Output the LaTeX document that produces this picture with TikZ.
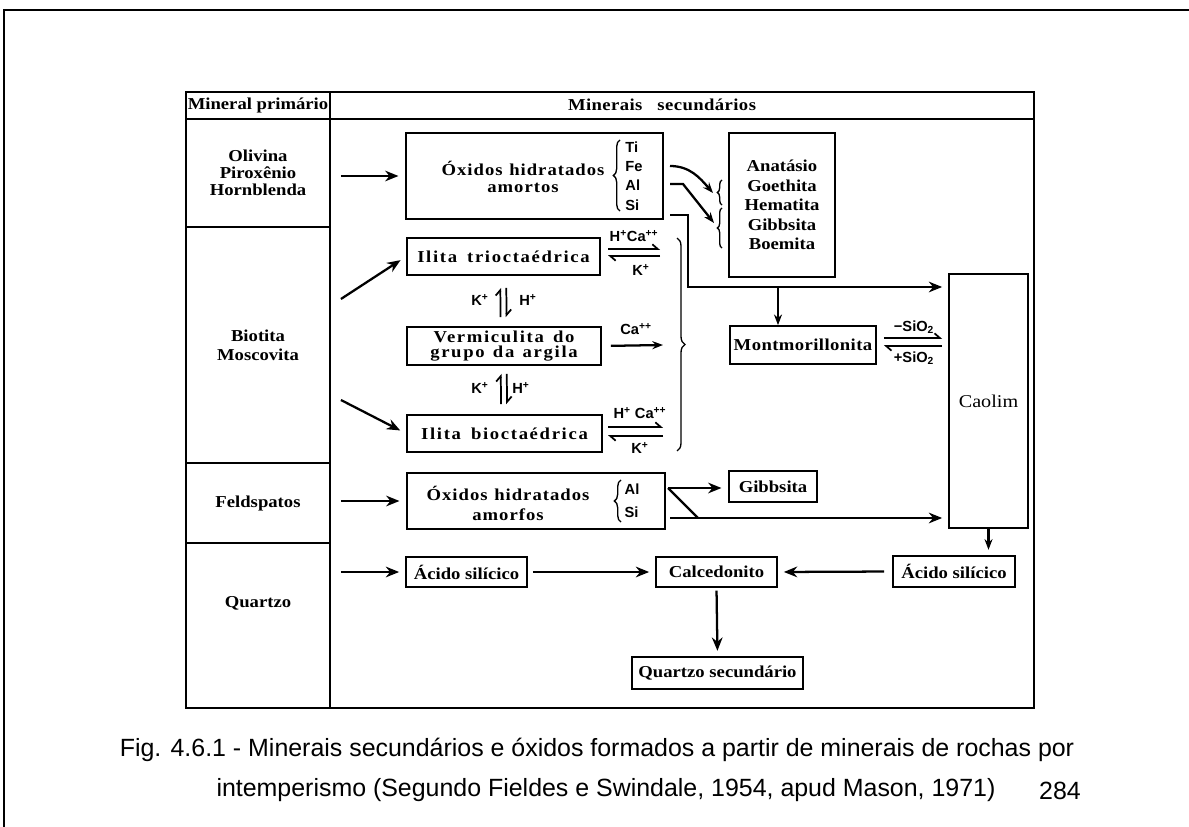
\documentclass[tikz,border=0pt]{standalone}
\usepackage{fontspec}
\setmainfont{Liberation Serif}[FakeStretch=1.12]
\newfontfamily\capfont{Liberation Sans}
\newfontfamily\chemfont{Liberation Sans}
\newfontfamily\widefont{Liberation Serif}[FakeStretch=1.12,LetterSpace=6]
\newfontfamily\widerfont{Liberation Serif}[FakeStretch=1.12,LetterSpace=10]
\newfontfamily\slightfont{Liberation Serif}[FakeStretch=1.12,LetterSpace=2.5]
\usetikzlibrary{arrows.meta,decorations.pathreplacing,calc}
\tikzset{
  cell/.style={draw, line width=1.4pt, inner sep=0pt, align=center,
    font=\bfseries\fontsize{12.5}{12.75}\selectfont},
  bx/.style={draw, line width=1.3pt, inner sep=0pt, align=center,
    font=\bfseries\fontsize{12.5}{12.75}\selectfont},
  txt/.style={inner sep=0pt, align=center, font=\bfseries\fontsize{12.5}{12.75}\selectfont},
  chem/.style={inner sep=0pt, align=left, font=\chemfont\bfseries\fontsize{11}{11}\selectfont},
  arr/.style={line width=1.7pt, -{Stealth[length=10pt,width=8pt]}},
  ln/.style={line width=1.7pt},
  harp/.style={line width=1.3pt, -{Straight Barb[harpoon,length=4pt,width=7pt]}},
  brc/.style={line width=1pt, decorate, decoration={brace, amplitude=5pt}},
  capt/.style={inner sep=0pt, font=\capfont\fontsize{18.7}{22}\selectfont}
}
\begin{document}
\begin{tikzpicture}[x=0.75pt,y=-0.75pt]
\useasboundingbox (0,0) rectangle (1189,827);
% outer frame
\draw[line width=1.5pt] (4,827) -- (4,10) -- (1189,10);

% table
\node[cell, minimum width=108pt, minimum height=20.25pt] (hl) at (258,105.5) {Mineral prim\'ario};
\node[cell, minimum width=528pt, minimum height=20.25pt] (hr) at (682,105.5) {};
\node[txt, font=\slightfont\bfseries\fontsize{12.5}{12.75}\selectfont] (hrt) at (662,105) {Minerais\hspace{0.9em}secund\'arios};
\node[cell, minimum width=528pt, minimum height=441.75pt] (ra) at (682,413.5) {};
\node[cell, minimum width=108pt, minimum height=81pt] (olv) at (258,173) {Olivina\\Pirox\^enio\\Hornblenda};
\node[cell, minimum width=108pt, minimum height=177pt, font=\bfseries\fontsize{12.5}{14.25}\selectfont] (bio) at (258,345) {Biotita\\Moscovita};
\node[cell, minimum width=108pt, minimum height=60pt] (fel) at (258,503) {Feldspatos};
\node[cell, minimum width=108pt, minimum height=123.75pt] (qtz) at (258,625.5) {};
\node[txt] (qtzt) at (258,603) {Quartzo};

% boxes
\node[bx, minimum width=192.75pt, minimum height=64.5pt] (ox1) at (534.5,176) {};
\node[txt, font=\widefont\bfseries\fontsize{12.5}{12.75}\selectfont] (ox1t) at (523,177) {\'Oxidos\hspace{0.4em}hidratados\\amortos};
\node[chem, font=\chemfont\bfseries\fontsize{11}{14.5}\selectfont] (tfas) at (634,176) {Ti\\Fe\\Al\\Si};
\draw[brc] (620,211) -- (620,140);

\node[bx, minimum width=79.5pt, minimum height=108pt, font=\bfseries\fontsize{12.5}{14.6}\selectfont] (anat) at (782,205) {Anat\'asio\\Goethita\\Hematita\\Gibbsita\\Boemita};

\node[bx, minimum width=144.75pt, minimum height=27.75pt, font=\widerfont\bfseries\fontsize{12.5}{12.75}\selectfont] (ilt) at (503.5,256.5) {Ilita\hspace{0.6em}trioctaédrica};
\node[bx, minimum width=145.5pt, minimum height=28.5pt, font=\widerfont\bfseries\fontsize{12.5}{11.25}\selectfont] (verm) at (504,346) {Vermiculita\hspace{0.55em}do\\grupo\hspace{0.5em}da\hspace{0.5em}argila};
\node[bx, minimum width=146.25pt, minimum height=27.75pt, font=\widerfont\bfseries\fontsize{12.5}{12.75}\selectfont] (ilb) at (504.5,433.5) {Ilita\hspace{0.6em}bioctaédrica};

\node[bx, minimum width=109.5pt, minimum height=28.5pt, font=\slightfont\bfseries\fontsize{12.5}{12.75}\selectfont] (mont) at (803,345) {Montmorillonita};
\node[bx, minimum width=59.25pt, minimum height=190.5pt, font=\fontsize{13.5}{14}\selectfont] (caol) at (988.5,401) {Caolim};

\node[bx, minimum width=193.5pt, minimum height=42pt] (ox2) at (536,501) {};
\node[txt, font=\widefont\bfseries\fontsize{12.5}{15}\selectfont] (ox2t) at (508,503) {\'Oxidos\hspace{0.4em}hidratados\\amorfos};
\node[chem, font=\chemfont\bfseries\fontsize{11}{17}\selectfont] (alsi) at (632,500.5) {Al\\Si};
\draw[brc] (621,522) -- (621,480);
\node[bx, minimum width=66pt, minimum height=23.25pt] (gib) at (773,486.5) {Gibbsita};

\node[bx, minimum width=90.75pt, minimum height=22.5pt] (ac1) at (466.5,572) {\'Acido sil\'icico};
\node[bx, minimum width=90.75pt, minimum height=22.5pt] (calc) at (716.5,572) {Calcedonito};
\node[bx, minimum width=91.5pt, minimum height=23.25pt] (ac2) at (954,571.5) {\'Acido sil\'icico};
\node[bx, minimum width=128.25pt, minimum height=24pt] (qsec) at (717.5,673) {Quartzo secund\'ario};

% left column arrows
\draw[arr, shorten <=7.5pt, shorten >=5pt] (olv.east |- ox1.west) -- (ox1.west);
\draw[arr, shorten >=5pt] ($(bio.east)+(10,-46)$) -- (ilt.west);
\draw[arr, shorten >=5pt] ($(bio.east)+(10,55)$) -- (ilb.west);
\draw[arr, shorten <=7.5pt, shorten >=5pt] (fel.east |- ox2.west) -- (ox2.west);
\draw[arr, shorten <=7.5pt, shorten >=4.5pt] (qtz.east |- ac1.west) -- (ac1.west);

% oxides 1 -> Anatasio braces
\coordinate (fe) at (670,166);
\coordinate (al) at (670,184);
\coordinate (si) at (670,215);
\coordinate (t1) at (713,193);
\coordinate (k1) at (683,184);
\coordinate (t2) at (714,223);
\draw[brc, decoration={amplitude=3.5pt}] (722,205) -- (722,180);
\draw[brc, decoration={amplitude=3.5pt}] (722,248) -- (722,208);
\draw[arr, -{Stealth[length=8pt,width=6pt]}] (fe) .. controls (690,166) and (700,178) .. (t1);
\draw[arr, -{Stealth[length=8pt,width=6pt]}] (al) -- (k1) -- (t2);

% Si path to Caolim and Montmorillonita
\coordinate (j0) at (688,215);
\coordinate (j1) at (688,287);
\coordinate (m1) at (778,287);
\draw[arr, shorten >=4.5pt] (si) -- (j0) -- (j1) -- (j1 -| caol.west);
\draw[arr, -{Stealth[length=8pt,width=6pt]}] (m1) -- (m1 |- mont.north);

% ilita / vermiculita exchanges
\draw[harp, shorten <=6.75pt, shorten >=9pt] ([xshift=-2.5pt]verm.north) -- ([xshift=-2.5pt]ilt.south);
\draw[harp, shorten <=9pt, shorten >=6.75pt] ([xshift=2pt]ilt.south) -- ([xshift=2pt]verm.north);
\node[chem] (k1l) at (480,300) {K\textsuperscript{+}};
\node[chem] (h1l) at (528,300) {H\textsuperscript{+}};
\draw[harp, shorten <=7.5pt, shorten >=6pt] ([xshift=-2.5pt]ilb.north) -- ([xshift=-2.5pt]verm.south);
\draw[harp, shorten <=6pt, shorten >=7.5pt] ([xshift=2pt]verm.south) -- ([xshift=2pt]ilb.north);
\node[chem] (k2l) at (480,388) {K\textsuperscript{+}};
\node[chem] (h2l) at (521,388) {H\textsuperscript{+}};

% equilibria to the right of ilita / vermiculita
\coordinate (a1) at (608,249); \coordinate (a2) at (660,249);
\coordinate (a3) at (660,256); \coordinate (a4) at (608,256);
\draw[harp] (a1) -- (a2);
\draw[harp] (a3) -- (a4);
\node[chem] (l1) at (634,236) {H\textsuperscript{+}Ca\textsuperscript{++}};
\node[chem] (l2) at (641,270) {K\textsuperscript{+}};
\coordinate (v2) at (663,345);
\draw[arr, shorten <=6.75pt, -{Stealth[length=8pt,width=6pt]}] (verm.east) -- (v2);
\node[chem] (l3) at (636,329) {Ca\textsuperscript{++}};
\coordinate (b1) at (608,427); \coordinate (b2) at (663,427);
\coordinate (b3) at (663,436); \coordinate (b4) at (608,436);
\draw[harp] (b1) -- (b2);
\draw[harp] (b3) -- (b4);
\node[chem] (l4) at (640,413) {H\textsuperscript{+} Ca\textsuperscript{++}};
\node[chem] (l5) at (640,448) {K\textsuperscript{+}};
\draw[brc, decoration={amplitude=6pt}] (677,238) -- (677,451);

% Montmorillonita <-> Caolim
\draw[harp, shorten <=5.25pt, shorten >=4.5pt] ([yshift=5.25pt]mont.east) -- ([yshift=5.25pt]mont.east -| caol.west);
\draw[harp, shorten <=4.5pt, shorten >=5.25pt] ([yshift=-0.75pt]mont.east -| caol.west) -- ([yshift=-0.75pt]mont.east);
\node[chem] (s1) at (914,327) {\textminus SiO\textsubscript{2}};
\node[chem] (s2) at (914,358) {+SiO\textsubscript{2}};

% feldspar oxides
\coordinate (f1) at (668,488);
\coordinate (f2) at (698,518);
\coordinate (f3) at (670,518);
\draw[arr, shorten >=5pt] (f1) -- (f1 -| gib.west);
\draw[ln] (f1) -- (f2);
\draw[arr, shorten >=4.5pt] (f3) -- (f3 -| caol.west);

% silica paths
\draw[arr, shorten >=4pt, -{Stealth[length=8pt,width=6pt]}] (caol.south) -- (caol.south |- ac2.north);
\draw[arr, shorten <=3.75pt, shorten >=4.5pt] (ac1.east) -- (calc.west);
\draw[arr, shorten <=6pt, shorten >=4.5pt] (ac2.west) -- (calc.east);
\draw[arr, shorten <=2pt, shorten >=4pt] (calc.south) -- (qsec.north);

% caption
\node[capt] (cap1) at (597,750) {Fig. 4.6.1 - Minerais secund\'arios e \'oxidos formados a partir de minerais de rochas por};
\node[capt] (cap2) at (606,790) {intemperismo (Segundo Fieldes e Swindale, 1954, apud Mason, 1971)};
\node[capt] (pg) at (1060,791) {284};
\end{tikzpicture}
\end{document}
